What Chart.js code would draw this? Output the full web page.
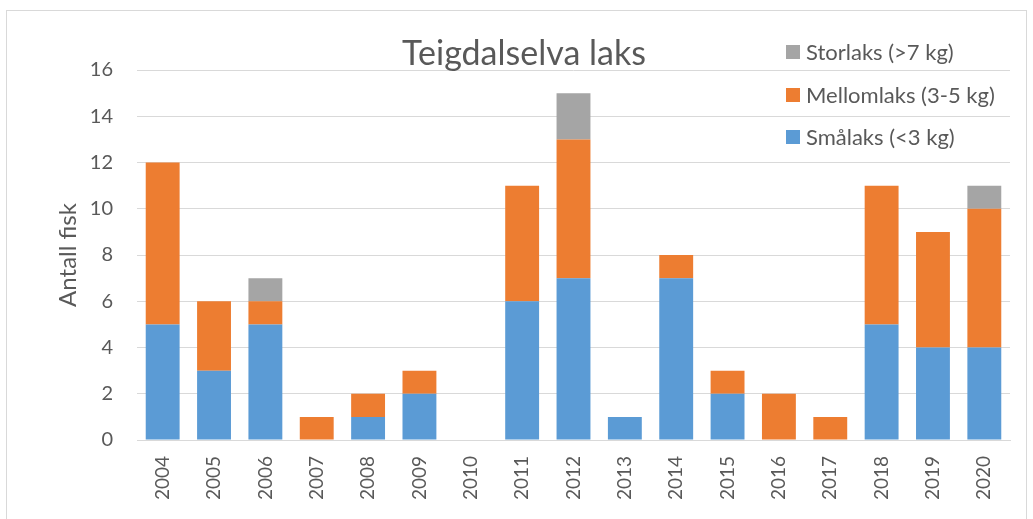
<!DOCTYPE html>
<html>
<head>
<meta charset="utf-8">
<script src="https://cdn.jsdelivr.net/npm/chart.js@4/dist/chart.umd.min.js"></script>
<style>
  html, body { margin: 0; padding: 0; background: #fff; }
  #wrap { position: relative; width: 1033px; height: 519px; }
  #frame { position: absolute; left: 6px; top: 10px; width: 1021px; height: 520px; border: 1px solid #d9d9d9; box-sizing: border-box; }
</style>
</head>
<body>
<div id="wrap">
  <div id="frame"></div>
  <canvas id="laksChart" width="1033" height="519"></canvas>
</div>
<script>
const years = ['2004', '2005', '2006', '2007', '2008', '2009', '2010', '2011', '2012',
               '2013', '2014', '2015', '2016', '2017', '2018', '2019', '2020'];
const smalaks   = [5, 3, 5, 0, 1, 2, 0, 6, 7, 1, 7, 2, 0, 0, 5, 4, 4];
const mellomlaks = [7, 3, 1, 1, 1, 1, 0, 5, 6, 0, 1, 1, 2, 1, 6, 5, 6];
const storlaks  = [0, 0, 1, 0, 0, 0, 0, 0, 2, 0, 0, 0, 0, 0, 0, 0, 1];
const yTicks = [0, 2, 4, 6, 8, 10, 12, 14, 16];

const TEXT = '#595959';
const FONT = 'Lato, "Open Sans", sans-serif';

// legend + title drawn on top, like the Excel original
const overlay = {
    id: 'overlay',
    afterDraw(chart) {
        const ctx = chart.ctx;
        ctx.save();
        ctx.fillStyle = TEXT;
        ctx.font = '34px ' + FONT;
        ctx.textAlign = 'center';
        ctx.textBaseline = 'middle';
        ctx.fillText('Teigdalselva laks', 524, 54);

        const items = chart.data.datasets.slice().reverse();
        const rows = [52, 95, 137];
        ctx.font = '22px ' + FONT;
        ctx.textAlign = 'left';
        items.forEach(function (ds, i) {
            ctx.fillStyle = ds.backgroundColor;
            ctx.fillRect(786, rows[i] - 7, 14, 14);
            ctx.fillStyle = TEXT;
            ctx.fillText(ds.label, 806, rows[i] + 1);
        });
        ctx.restore();
    }
};

new Chart(document.getElementById('laksChart').getContext('2d'), {
    type: 'bar',
    data: {
        labels: years,
        datasets: [
            { label: 'Smålaks (<3 kg)', data: smalaks, backgroundColor: '#5B9BD5' },
            { label: 'Mellomlaks (3-5 kg)', data: mellomlaks, backgroundColor: '#ED7D31' },
            { label: 'Storlaks (>7 kg)', data: storlaks, backgroundColor: '#A5A5A5' },
        ],
    },
    options: {
        responsive: false,
        animation: false,
        layout: { padding: { left: 54, right: 23, top: 70, bottom: 0 } },
        datasets: { bar: { barPercentage: 0.66, categoryPercentage: 1.0, borderWidth: 0 } },
        plugins: { legend: { display: false }, title: { display: false }, tooltip: { enabled: false } },
        scales: {
            x: {
                stacked: true,
                grid: { display: false },
                border: { color: '#d9d9d9', width: 1 },
                ticks: { color: TEXT, font: { family: FONT, size: 19 }, maxRotation: 90, minRotation: 90, padding: 8 },
                afterFit: function (scale) { scale.height = 79; },
            },
            y: {
                stacked: true,
                min: 0,
                max: 16,
                afterBuildTicks: function (scale) {
                    scale.ticks = yTicks.map(function (v) { return { value: v }; });
                },
                grid: { color: '#d9d9d9', lineWidth: 1, drawTicks: false },
                border: { display: false },
                ticks: { color: TEXT, font: { family: FONT, size: 20 }, padding: 24 },
                title: { display: true, text: 'Antall fisk', color: TEXT, font: { family: FONT, size: 24 }, padding: { top: 0, bottom: 0 } },
                afterFit: function (scale) { scale.width = 83; },
            },
        },
    },
    plugins: [overlay],
});
</script>
</body>
</html>
